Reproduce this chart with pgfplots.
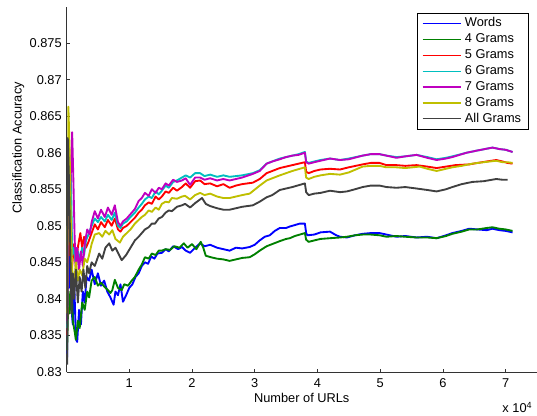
\documentclass[border=0pt]{standalone}
\usepackage{fontspec}
\setmainfont{Liberation Sans}
\usepackage{pgfplots}
\usepackage{pgfplotstable}
\pgfplotsset{compat=1.18}

\definecolor{mblue}{rgb}{0,0,1}
\definecolor{mgreen}{rgb}{0,0.5,0}
\definecolor{mred}{rgb}{1,0,0}
\definecolor{mcyan}{rgb}{0,0.75,0.75}
\definecolor{mmagenta}{rgb}{0.75,0,0.75}
\definecolor{myellow}{rgb}{0.75,0.75,0}
\definecolor{mgray}{rgb}{0.25,0.25,0.25}

% x in units of 10^4 URLs
\pgfplotstableread[row sep=\\]{x y\\
0.01 0.832\\ 0.02 0.848\\ 0.04 0.8415\\ 0.06 0.846\\ 0.08 0.8385\\ 0.10 0.8365\\ 0.12 0.843\\ 0.15 0.8345\\
0.17 0.8341\\ 0.20 0.8385\\ 0.23 0.8365\\ 0.26 0.8410\\ 0.29 0.8395\\ 0.32 0.8430\\ 0.36 0.8425\\ 0.40 0.8440\\
0.45 0.8420\\ 0.50 0.8435\\ 0.55 0.8418\\ 0.60 0.8425\\ 0.65 0.8410\\ 0.70 0.8402\\ 0.75 0.8392\\ 0.78 0.8410\\
0.82 0.8405\\ 0.86 0.8420\\ 0.90 0.8396\\ 0.95 0.8405\\ 1.00 0.8415\\ 1.05 0.8420\\ 1.10 0.8430\\ 1.15 0.8435\\
1.20 0.8445\\ 1.25 0.8450\\ 1.30 0.8448\\ 1.35 0.8458\\ 1.40 0.8455\\ 1.45 0.8462\\ 1.52 0.8463\\ 1.58 0.8468\\
1.63 0.8465\\ 1.70 0.8472\\ 1.78 0.8468\\ 1.84 0.8471\\ 1.90 0.8466\\ 1.97 0.8463\\ 2.05 0.8470\\ 2.13 0.8476\\
2.20 0.8472\\ 2.29 0.8474\\ 2.40 0.8470\\ 2.50 0.8468\\ 2.60 0.8466\\ 2.70 0.8470\\ 2.80 0.8469\\ 2.92 0.8471\\
3.00 0.8474\\ 3.08 0.8480\\ 3.16 0.8485\\ 3.24 0.8487\\ 3.32 0.8493\\ 3.40 0.8497\\ 3.50 0.8497\\ 3.56 0.8499\\
3.64 0.8501\\ 3.72 0.8503\\ 3.80 0.8503\\ 3.82 0.8490\\ 3.84 0.8487\\ 3.95 0.8488\\ 4.05 0.8491\\ 4.20 0.8492\\
4.30 0.8487\\ 4.36 0.8485\\ 4.47 0.8484\\ 4.60 0.8487\\ 4.72 0.8489\\ 4.85 0.8490\\ 4.99 0.8490\\ 5.10 0.8488\\
5.26 0.8485\\ 5.40 0.8486\\ 5.58 0.8484\\ 5.75 0.8485\\ 5.90 0.8483\\ 6.05 0.8487\\ 6.15 0.8490\\ 6.30 0.8493\\
6.42 0.8496\\ 6.55 0.8495\\ 6.70 0.8494\\ 6.79 0.8496\\ 6.90 0.8494\\ 7.00 0.8493\\ 7.11 0.8491\\
}\words

\pgfplotstableread[row sep=\\]{x y\\
0.01 0.833\\ 0.03 0.841\\ 0.05 0.838\\ 0.08 0.843\\ 0.10 0.8370\\ 0.13 0.8355\\ 0.15 0.8344\\ 0.18 0.8370\\
0.21 0.8360\\ 0.25 0.8395\\ 0.29 0.8385\\ 0.33 0.8410\\ 0.36 0.8402\\ 0.40 0.8425\\ 0.45 0.8430\\ 0.50 0.8418\\
0.55 0.8422\\ 0.61 0.8416\\ 0.66 0.8412\\ 0.70 0.8408\\ 0.73 0.8412\\ 0.77 0.8426\\ 0.82 0.8415\\ 0.88 0.8412\\
0.92 0.8420\\ 0.98 0.8418\\ 1.04 0.8425\\ 1.09 0.8430\\ 1.15 0.8440\\ 1.20 0.8447\\ 1.25 0.8457\\ 1.31 0.8455\\
1.36 0.8462\\ 1.42 0.8460\\ 1.47 0.8466\\ 1.52 0.8466\\ 1.58 0.8468\\ 1.65 0.8467\\ 1.72 0.8472\\ 1.80 0.8470\\
1.87 0.8476\\ 1.93 0.8470\\ 2.00 0.8475\\ 2.07 0.8468\\ 2.14 0.8478\\ 2.18 0.8470\\ 2.22 0.8459\\ 2.30 0.8457\\
2.40 0.8455\\ 2.50 0.8454\\ 2.60 0.8452\\ 2.70 0.8454\\ 2.80 0.8456\\ 2.92 0.8457\\ 3.00 0.8461\\ 3.08 0.8466\\
3.19 0.8472\\ 3.28 0.8475\\ 3.40 0.8479\\ 3.50 0.8482\\ 3.56 0.8483\\ 3.64 0.8486\\ 3.72 0.8488\\ 3.80 0.8490\\
3.82 0.8481\\ 3.86 0.8478\\ 3.95 0.8480\\ 4.05 0.8482\\ 4.20 0.8483\\ 4.36 0.8484\\ 4.47 0.8485\\ 4.60 0.8487\\
4.72 0.8488\\ 4.85 0.8488\\ 4.99 0.8487\\ 5.10 0.8485\\ 5.26 0.8486\\ 5.40 0.8485\\ 5.58 0.8484\\ 5.75 0.8484\\
5.90 0.8483\\ 6.05 0.8486\\ 6.15 0.8489\\ 6.30 0.8492\\ 6.42 0.8495\\ 6.55 0.8495\\ 6.70 0.8497\\ 6.79 0.8498\\
6.90 0.8496\\ 7.00 0.8495\\ 7.11 0.8493\\
}\fourgrams

\pgfplotstableread[row sep=\\]{x y\\
0.01 0.835\\ 0.03 0.855\\ 0.05 0.846\\ 0.07 0.853\\ 0.09 0.8445\\ 0.12 0.8475\\ 0.15 0.8440\\ 0.18 0.8470\\
0.22 0.8490\\ 0.25 0.8470\\ 0.28 0.8485\\ 0.31 0.8470\\ 0.35 0.8478\\ 0.40 0.8490\\ 0.45 0.8502\\ 0.50 0.8495\\
0.55 0.8505\\ 0.61 0.8498\\ 0.66 0.8508\\ 0.72 0.8500\\ 0.77 0.8510\\ 0.82 0.8495\\ 0.86 0.8492\\ 0.90 0.8497\\
0.96 0.8500\\ 1.02 0.8505\\ 1.09 0.8511\\ 1.15 0.8518\\ 1.20 0.8522\\ 1.25 0.8528\\ 1.31 0.8532\\ 1.36 0.8530\\
1.42 0.8540\\ 1.47 0.8536\\ 1.52 0.8540\\ 1.58 0.8547\\ 1.63 0.8545\\ 1.70 0.8552\\ 1.76 0.8548\\ 1.84 0.8553\\
1.90 0.8558\\ 1.97 0.8552\\ 2.05 0.8561\\ 2.13 0.8562\\ 2.20 0.8557\\ 2.29 0.8558\\ 2.40 0.8554\\ 2.50 0.8557\\
2.60 0.8552\\ 2.70 0.8555\\ 2.80 0.8557\\ 2.97 0.8559\\ 3.08 0.8564\\ 3.19 0.8572\\ 3.28 0.8575\\ 3.40 0.8579\\
3.50 0.8581\\ 3.60 0.8583\\ 3.70 0.8585\\ 3.80 0.8587\\ 3.82 0.8574\\ 3.86 0.8572\\ 3.95 0.8575\\ 4.05 0.8577\\
4.20 0.8578\\ 4.36 0.8577\\ 4.50 0.8580\\ 4.72 0.8584\\ 4.85 0.8586\\ 4.99 0.8586\\ 5.10 0.8583\\ 5.26 0.8583\\
5.40 0.8582\\ 5.58 0.8583\\ 5.75 0.8581\\ 5.90 0.8579\\ 6.05 0.8581\\ 6.20 0.8583\\ 6.42 0.8584\\ 6.55 0.8586\\
6.70 0.8588\\ 6.85 0.8590\\ 6.95 0.8588\\ 7.03 0.8586\\ 7.11 0.8585\\
}\fivegrams

\pgfplotstableread[row sep=\\]{x y\\
0.01 0.836\\ 0.03 0.858\\ 0.05 0.850\\ 0.07 0.857\\ 0.09 0.8460\\ 0.12 0.8470\\ 0.15 0.8445\\ 0.18 0.8465\\
0.22 0.8455\\ 0.25 0.8470\\ 0.28 0.8460\\ 0.31 0.8480\\ 0.35 0.8488\\ 0.40 0.8500\\ 0.45 0.8510\\ 0.50 0.8505\\
0.55 0.8512\\ 0.61 0.8506\\ 0.66 0.8515\\ 0.72 0.8508\\ 0.77 0.8518\\ 0.82 0.8500\\ 0.86 0.8497\\ 0.90 0.8503\\
0.96 0.8506\\ 1.02 0.8512\\ 1.09 0.8518\\ 1.15 0.8525\\ 1.20 0.8530\\ 1.25 0.8536\\ 1.31 0.8540\\ 1.36 0.8538\\
1.42 0.8547\\ 1.47 0.8543\\ 1.52 0.8548\\ 1.58 0.8555\\ 1.63 0.8552\\ 1.70 0.8560\\ 1.76 0.8562\\ 1.84 0.8566\\
1.90 0.8569\\ 1.97 0.8566\\ 2.05 0.8572\\ 2.13 0.8572\\ 2.20 0.8568\\ 2.29 0.8570\\ 2.40 0.8567\\ 2.50 0.8569\\
2.60 0.8567\\ 2.70 0.8568\\ 2.80 0.8569\\ 2.97 0.8572\\ 3.08 0.8576\\ 3.19 0.8585\\ 3.28 0.8588\\ 3.40 0.8592\\
3.50 0.8594\\ 3.60 0.8596\\ 3.70 0.8598\\ 3.80 0.8601\\ 3.82 0.8588\\ 3.86 0.8586\\ 3.95 0.8588\\ 4.05 0.8590\\
4.20 0.8592\\ 4.36 0.8590\\ 4.50 0.8592\\ 4.72 0.8596\\ 4.85 0.8598\\ 4.99 0.8598\\ 5.10 0.8596\\ 5.26 0.8594\\
5.40 0.8595\\ 5.58 0.8597\\ 5.75 0.8594\\ 5.90 0.8591\\ 6.05 0.8593\\ 6.15 0.8595\\ 6.38 0.8600\\ 6.55 0.8603\\
6.79 0.8607\\ 6.90 0.8605\\ 7.00 0.8604\\ 7.11 0.8601\\
}\sixgrams

\pgfplotstableread[row sep=\\]{x y\\
0.01 0.837\\ 0.03 0.852\\ 0.06 0.8550\\ 0.09 0.8628\\ 0.11 0.8560\\ 0.13 0.8480\\ 0.15 0.8450\\ 0.17 0.8470\\
0.20 0.8440\\ 0.23 0.8465\\ 0.26 0.8445\\ 0.29 0.8475\\ 0.33 0.8495\\ 0.37 0.8488\\ 0.40 0.8505\\ 0.45 0.8520\\
0.50 0.8510\\ 0.55 0.8522\\ 0.61 0.8512\\ 0.66 0.8525\\ 0.72 0.8515\\ 0.77 0.8528\\ 0.82 0.8505\\ 0.86 0.8500\\
0.90 0.8506\\ 0.96 0.8510\\ 1.02 0.8516\\ 1.09 0.8523\\ 1.15 0.8534\\ 1.20 0.8538\\ 1.25 0.8545\\ 1.31 0.8541\\
1.36 0.8550\\ 1.42 0.8545\\ 1.47 0.8552\\ 1.52 0.8550\\ 1.58 0.8558\\ 1.63 0.8555\\ 1.70 0.8563\\ 1.76 0.8560\\
1.84 0.8562\\ 1.90 0.8565\\ 1.97 0.8556\\ 2.05 0.8566\\ 2.13 0.8566\\ 2.20 0.8563\\ 2.29 0.8565\\ 2.40 0.8562\\
2.50 0.8564\\ 2.60 0.8562\\ 2.70 0.8564\\ 2.80 0.8566\\ 2.97 0.8571\\ 3.08 0.8575\\ 3.19 0.8585\\ 3.28 0.8588\\
3.40 0.8591\\ 3.50 0.8594\\ 3.60 0.8596\\ 3.70 0.8597\\ 3.80 0.8600\\ 3.82 0.8587\\ 3.86 0.8585\\ 3.95 0.8587\\
4.05 0.8589\\ 4.20 0.8592\\ 4.36 0.8590\\ 4.50 0.8591\\ 4.72 0.8596\\ 4.85 0.8598\\ 4.99 0.8598\\ 5.10 0.8596\\
5.26 0.8593\\ 5.40 0.8595\\ 5.58 0.8597\\ 5.75 0.8593\\ 5.90 0.8590\\ 6.05 0.8592\\ 6.15 0.8594\\ 6.38 0.8600\\
6.55 0.8603\\ 6.79 0.8607\\ 6.90 0.8605\\ 7.00 0.8604\\ 7.11 0.8601\\
}\sevengrams

\pgfplotstableread[row sep=\\]{x y\\
0.01 0.838\\ 0.03 0.8663\\ 0.05 0.8600\\ 0.07 0.8500\\ 0.09 0.8440\\ 0.12 0.8420\\ 0.15 0.8450\\ 0.18 0.8425\\
0.21 0.8440\\ 0.25 0.8432\\ 0.29 0.8455\\ 0.33 0.8450\\ 0.36 0.8460\\ 0.40 0.8475\\ 0.45 0.8488\\ 0.52 0.8490\\
0.57 0.8485\\ 0.62 0.8493\\ 0.68 0.8488\\ 0.73 0.8494\\ 0.78 0.8482\\ 0.85 0.8477\\ 0.90 0.8485\\ 0.96 0.8490\\
1.02 0.8495\\ 1.09 0.8503\\ 1.15 0.8508\\ 1.20 0.8512\\ 1.25 0.8515\\ 1.31 0.8521\\ 1.36 0.8519\\ 1.42 0.8525\\
1.47 0.8522\\ 1.52 0.8530\\ 1.58 0.8533\\ 1.63 0.8532\\ 1.68 0.8538\\ 1.76 0.8537\\ 1.84 0.8540\\ 1.89 0.8541\\
1.97 0.8536\\ 2.05 0.8542\\ 2.13 0.8545\\ 2.20 0.8542\\ 2.29 0.8544\\ 2.40 0.8540\\ 2.50 0.8538\\ 2.60 0.8538\\
2.70 0.8540\\ 2.80 0.8542\\ 2.92 0.8544\\ 3.08 0.8555\\ 3.19 0.8562\\ 3.28 0.8565\\ 3.40 0.8569\\ 3.50 0.8572\\
3.60 0.8575\\ 3.72 0.8578\\ 3.80 0.8580\\ 3.82 0.8566\\ 3.86 0.8564\\ 3.95 0.8567\\ 4.05 0.8569\\ 4.20 0.8571\\
4.36 0.8570\\ 4.50 0.8573\\ 4.72 0.8581\\ 4.85 0.8582\\ 4.99 0.8582\\ 5.10 0.8580\\ 5.26 0.8580\\ 5.40 0.8579\\
5.63 0.8581\\ 5.75 0.8578\\ 5.90 0.8575\\ 6.05 0.8578\\ 6.15 0.8580\\ 6.30 0.8582\\ 6.47 0.8585\\ 6.65 0.8587\\
6.85 0.8589\\ 6.95 0.8587\\ 7.03 0.8587\\ 7.11 0.8586\\
}\eightgrams

\pgfplotstableread[row sep=\\]{x y\\
0.01 0.831\\ 0.02 0.8620\\ 0.04 0.8560\\ 0.06 0.8470\\ 0.08 0.8380\\ 0.10 0.8435\\ 0.12 0.8400\\ 0.15 0.8440\\
0.18 0.8395\\ 0.21 0.8430\\ 0.24 0.8410\\ 0.27 0.8440\\ 0.30 0.8415\\ 0.33 0.8445\\ 0.36 0.8435\\ 0.40 0.8450\\
0.45 0.8445\\ 0.52 0.8462\\ 0.57 0.8455\\ 0.62 0.8470\\ 0.68 0.8476\\ 0.73 0.8466\\ 0.78 0.8470\\ 0.85 0.8458\\
0.88 0.8453\\ 0.95 0.8460\\ 1.02 0.8470\\ 1.09 0.8480\\ 1.15 0.8485\\ 1.20 0.8490\\ 1.25 0.8495\\ 1.31 0.8498\\
1.36 0.8503\\ 1.41 0.8503\\ 1.47 0.8510\\ 1.52 0.8512\\ 1.58 0.8518\\ 1.63 0.8521\\ 1.68 0.8520\\ 1.76 0.8526\\
1.84 0.8528\\ 1.89 0.8530\\ 1.97 0.8525\\ 2.05 0.8531\\ 2.16 0.8538\\ 2.22 0.8530\\ 2.29 0.8527\\ 2.40 0.8524\\
2.50 0.8522\\ 2.60 0.8522\\ 2.70 0.8524\\ 2.80 0.8526\\ 2.97 0.8528\\ 3.08 0.8533\\ 3.19 0.8539\\ 3.28 0.8542\\
3.40 0.8549\\ 3.50 0.8551\\ 3.60 0.8553\\ 3.72 0.8556\\ 3.80 0.8558\\ 3.82 0.8546\\ 3.86 0.8542\\ 3.95 0.8544\\
4.05 0.8545\\ 4.20 0.8548\\ 4.36 0.8546\\ 4.47 0.8547\\ 4.60 0.8550\\ 4.72 0.8553\\ 4.85 0.8555\\ 4.99 0.8555\\
5.10 0.8553\\ 5.26 0.8552\\ 5.40 0.8553\\ 5.58 0.8551\\ 5.75 0.8549\\ 5.90 0.8547\\ 6.05 0.8550\\ 6.15 0.8553\\
6.30 0.8557\\ 6.47 0.8560\\ 6.65 0.8561\\ 6.85 0.8564\\ 6.95 0.8563\\ 7.03 0.8563\\
}\allgrams

\newcommand{\lblfont}{\fontsize{9.6}{11}\selectfont}

\begin{document}
\begin{tikzpicture}
\begin{axis}[
	scale only axis,
	width=352.9pt,
	height=274.1pt,
	xmin=0, xmax=7.5,
	ymin=0.83, ymax=0.88,
	axis lines=left,
	axis line style={-, black!80, line width=0.6pt},
	tick align=inside,
	major tick length=2.4pt,
	tick style={black!80, line width=0.5pt},
	xtick={1,2,3,4,5,6,7},
	ytick={0.83,0.835,0.84,0.845,0.85,0.855,0.86,0.865,0.87,0.875},
	/pgf/number format/assume math mode=true,
	yticklabel style={/pgf/number format/.cd, fixed, precision=3, /tikz/.cd,
		font=\lblfont, anchor=east, inner sep=0pt, xshift=-3.4pt},
	xticklabel style={font=\lblfont, anchor=base, yshift=-11.6pt},
	scaled x ticks=false,
	xlabel={Number of URLs},
	xlabel style={font=\lblfont, at={(axis description cs:0.5,0)}, anchor=base, yshift=-23.25pt},
	ylabel={Classification Accuracy},
	ylabel style={font=\lblfont, at={(axis description cs:-0.0952,0.613)}, anchor=base},
	legend style={at={(0.983,0.983)}, anchor=north east,
		inner xsep=3.5pt, inner ysep=2pt, font=\lblfont,
		nodes={inner xsep=2.2pt, inner ysep=1.45pt, text height=7pt, text depth=2pt}},
	legend cell align=left,
	legend image code/.code={\draw[#1, line width=1pt] (0pt,0pt) -- (29pt,0pt);},
	every axis plot/.append style={line width=1.4pt, line join=round},
	clip=false,
]
\addplot[draw=mblue] table {\words};
\addlegendentry{Words}
\addplot[draw=mgreen] table {\fourgrams};
\addlegendentry{4 Grams}
\addplot[draw=mred] table {\fivegrams};
\addlegendentry{5 Grams}
\addplot[draw=mcyan] table {\sixgrams};
\addlegendentry{6 Grams}
\addplot[draw=mmagenta] table {\sevengrams};
\addlegendentry{7 Grams}
\addplot[draw=myellow] table {\eightgrams};
\addlegendentry{8 Grams}
\addplot[draw=mgray] table {\allgrams};
\addlegendentry{All Grams}

\node[font=\lblfont, anchor=base east, xshift=0pt, yshift=-30.75pt] at (rel axis cs:1,0) {x 10\textsuperscript{4}};
\coordinate (bbsw) at (rel axis cs:0,0);
\coordinate (bbne) at (rel axis cs:1,1);
\end{axis}
\pgfresetboundingbox
\path ([xshift=-49.9pt, yshift=-33pt]bbsw) rectangle ([yshift=4.9pt]bbne);
\end{tikzpicture}
\end{document}
